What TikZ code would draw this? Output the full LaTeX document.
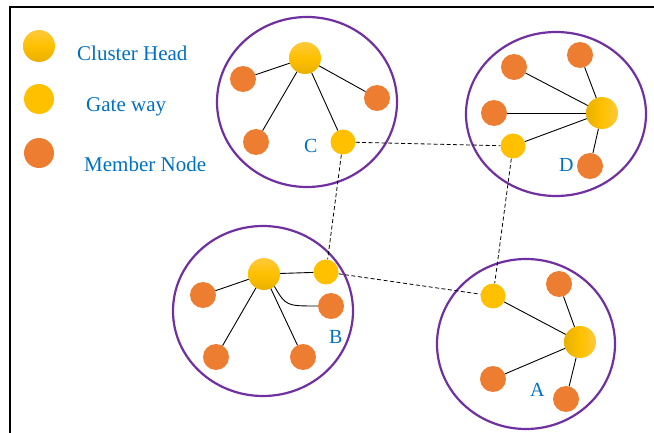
\documentclass[tikz,border=0pt]{standalone}
\usepackage{fontspec}
\setmainfont{Liberation Serif}
\definecolor{memberorange}{HTML}{ED7D31}
\definecolor{gateyellow}{HTML}{FFC000}
\definecolor{headlight}{HTML}{FFCA3C}
\definecolor{headdark}{HTML}{E8B000}
\definecolor{clusterpurple}{HTML}{7030A0}
\definecolor{labelblue}{HTML}{0070C0}
\begin{document}
\begin{tikzpicture}[x=1pt,y=-1pt,
  member/.style={circle,fill=memberorange,minimum size=26pt,inner sep=0pt},
  gateway/.style={circle,fill=gateyellow,minimum size=25pt,inner sep=0pt},
  headv/.style={circle,top color=headlight,bottom color=headdark,middle color=gateyellow,minimum size=32pt,inner sep=0pt},
  headh/.style={circle,left color=headdark,right color=headlight,middle color=gateyellow,minimum size=32pt,inner sep=0pt},
  cluster/.style={draw=clusterpurple,line width=2.2pt},
  link/.style={draw=black,line width=0.9pt},
  bridge/.style={draw=black,line width=0.8pt,dash pattern=on 4pt off 2.5pt},
  txt/.style={text=labelblue,font=\fontsize{21}{25}\selectfont,inner sep=0pt,anchor=base west},
  tag/.style={text=labelblue,font=\fontsize{20}{24}\selectfont,inner sep=0pt,anchor=base west}]
\useasboundingbox (0,0) rectangle (654,433);

% frame
\draw[line width=2pt] (654,7) -- (10,7) -- (10,433);

% legend
\node[headv] (lgh) at (39,46) {};
\node[gateway,minimum size=30pt] (lgg) at (39,99) {};
\node[member,minimum size=30pt] (lgm) at (39,153) {};
\node[txt] (lth) at (77,61) {Cluster Head};
\node[txt] (ltg) at (86,112) {Gate way};
\node[txt] (ltm) at (84,172) {Member Node};

% cluster outlines
\draw[cluster] (307,102) ellipse [x radius=90, y radius=85];
\draw[cluster] (556,114) ellipse [x radius=90, y radius=82];
\draw[cluster] (263,311) ellipse [x radius=90, y radius=85];
\draw[cluster] (526,344) ellipse [x radius=89, y radius=85];

% cluster C
\node[headv] (ch) at (305,58) {};
\node[member] (cm1) at (243,79) {};
\node[member] (cm2) at (377,98) {};
\node[member] (cm3) at (256,142) {};
\node[gateway] (cg) at (343,142) {};
\node[tag] (cl) at (304,153) {C};
\foreach \n in {cm1,cm2,cm3,cg} \draw[link] (ch) -- (\n);

% cluster D
\node[headh] (dh) at (602,113) {};
\node[member] (dm1) at (580,55) {};
\node[member] (dm2) at (514,67) {};
\node[member] (dm3) at (494,113) {};
\node[member] (dm4) at (590,166) {};
\node[gateway] (dg) at (513,146) {};
\node[tag] (dl) at (559,172) {D};
\foreach \n in {dm1,dm2,dm3,dm4,dg} \draw[link] (dh) -- (\n);

% cluster B
\node[headv] (bh) at (264,274) {};
\node[gateway] (bg) at (326,272) {};
\node[member] (bm1) at (203,295) {};
\node[member] (bm2) at (331,306) {};
\node[member] (bm3) at (216,357) {};
\node[member] (bm4) at (303,357) {};
\node[tag] (bl) at (329,343) {B};
\foreach \n in {bg,bm1,bm3,bm4} \draw[link] (bh) -- (\n);
\draw[link] (bh.-50) .. controls (286,306) .. (bm2.west);

% cluster A
\node[headh] (ah) at (580,342) {};
\node[gateway] (ag) at (493,296) {};
\node[member] (am1) at (559,284) {};
\node[member] (am2) at (493,379) {};
\node[member] (am3) at (566,399) {};
\node[tag] (al) at (530,396) {A};
\foreach \n in {ag,am1,am2,am3} \draw[link] (ah) -- (\n);

% links between gateways
\draw[bridge] (cg) -- (dg);
\draw[bridge] (cg) -- (bg);
\draw[bridge] (dg) -- (ag);
\draw[bridge] (bg) -- (ag);
\end{tikzpicture}
\end{document}
